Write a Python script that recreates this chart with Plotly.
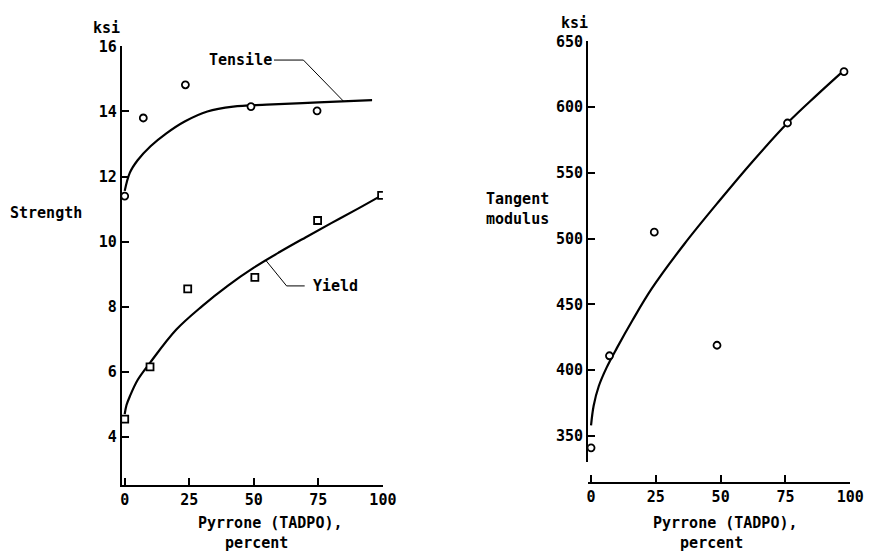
import plotly.graph_objects as go

# ---- data ----
tensile_x = [0, 7.2, 23.5, 48.9, 74.5]
tensile_y = [11.4, 13.8, 14.82, 14.15, 14.02]
yield_x = [0, 9.8, 24.4, 50.4, 74.7, 99.5]
yield_y = [4.55, 6.15, 8.55, 8.9, 10.65, 11.42]
tensile_fit_x = [0, 2, 5, 10, 16, 23.4, 32, 42, 55, 75, 95.8]
tensile_fit_y = [11.56, 12.12, 12.5, 12.93, 13.32, 13.7, 14.0, 14.15, 14.21, 14.28, 14.35]
yield_fit_x = [0, 0.7, 2, 5, 10, 20, 30, 40, 50, 60, 70, 80, 90, 99]
yield_fit_y = [4.7, 4.98, 5.25, 5.75, 6.3, 7.3, 8.02, 8.65, 9.2, 9.68, 10.13, 10.57, 11.0, 11.4]

modulus_x = [0, 7.1, 24.4, 48.6, 75.8, 97.6]
modulus_y = [341, 411, 505, 419, 588, 627]
modulus_fit_x = [0, 1, 3, 6, 10, 16, 23.4, 36, 50, 62, 75.8, 87, 97.6]
modulus_fit_y = [358, 373, 388, 402, 417, 438, 462, 496, 530, 558, 588, 609, 628]

x_ticks = [0, 25, 50, 75, 100]
strength_ticks = [4, 6, 8, 10, 12, 14, 16]
modulus_ticks = [350, 400, 450, 500, 550, 600, 650]

FONT = "DejaVu Sans Mono"
W, H = 876, 552


def px(X):
    return X / W


def py(Y):
    return 1 - Y / H


fig = go.Figure()
curve = dict(color="black", width=2.2, shape="spline", smoothing=1.0)
mk = lambda sym: dict(symbol=sym, size=7, color="white", line=dict(color="black", width=1.8))

fig.add_trace(go.Scatter(x=tensile_fit_x, y=tensile_fit_y, mode="lines", line=curve,
                         xaxis="x", yaxis="y"))
fig.add_trace(go.Scatter(x=yield_fit_x, y=yield_fit_y, mode="lines", line=curve,
                         xaxis="x", yaxis="y"))
fig.add_trace(go.Scatter(x=tensile_x, y=tensile_y, mode="markers", marker=mk("circle"),
                         xaxis="x", yaxis="y"))
fig.add_trace(go.Scatter(x=yield_x, y=yield_y, mode="markers", marker=mk("square"),
                         xaxis="x", yaxis="y"))
fig.add_trace(go.Scatter(x=modulus_fit_x, y=modulus_fit_y, mode="lines", line=curve,
                         xaxis="x2", yaxis="y2"))
fig.add_trace(go.Scatter(x=modulus_x, y=modulus_y, mode="markers", marker=mk("circle"),
                         xaxis="x2", yaxis="y2"))

tickfont = dict(family=FONT, size=15, color="black", weight="bold")
ax_common = dict(showgrid=False, zeroline=False, showline=True, linecolor="black",
                 linewidth=2, ticks="inside", ticklen=7, tickwidth=2, tickcolor="black",
                 tickfont=tickfont)

fig.update_layout(
    width=W, height=H, margin=dict(l=0, r=0, t=0, b=0),
    paper_bgcolor="white", plot_bgcolor="white", showlegend=False,
    font=dict(family=FONT, size=15, color="black"),
    xaxis=dict(domain=[px(122), px(388)], range=[-1.14, 100], tickvals=x_ticks,
               anchor="y", **ax_common),
    yaxis=dict(domain=[py(484), py(38)], range=[2.52, 16], tickvals=strength_ticks,
               anchor="x", **ax_common),
    xaxis2=dict(domain=[px(597), px(864)], range=[-1.14, 100], tickvals=x_ticks,
                anchor="free", position=py(482), **ax_common),
    yaxis2=dict(domain=[py(460), py(33)], range=[330.6, 650], tickvals=modulus_ticks,
                anchor="x2", **ax_common),
)


def txt(X, Y, s, yanchor="middle"):
    fig.add_annotation(x=px(X), y=py(Y), xref="paper", yref="paper", text=s,
                       showarrow=False, xanchor="center", yanchor=yanchor,
                       font=dict(family=FONT, size=15, color="black", weight="bold"))


txt(106, 19, "ksi")
txt(45, 207, "Strength")
txt(273, 533, "Pyrrone (TADPO),<br>percent&nbsp;&nbsp;&nbsp;")
txt(583, 14, "ksi")
txt(525, 203, "Tangent<br>modulus")
txt(737, 533, "Pyrrone (TADPO),<br>percent&nbsp;&nbsp;&nbsp;")

# labels with leader lines (data coords of left panel)
fig.add_annotation(x=45, y=15.58, xref="x", yref="y", text="Tensile", showarrow=False,
                   font=dict(family=FONT, size=15, color="black", weight="bold"))
fig.add_shape(type="path", xref="x", yref="y", path="M 57.8 15.58 L 69.2 15.58 L 84.8 14.31",
              line=dict(color="black", width=1))
fig.add_annotation(x=81.7, y=8.64, xref="x", yref="y", text="Yield", showarrow=False,
                   font=dict(family=FONT, size=15, color="black", weight="bold"))
fig.add_shape(type="path", xref="x", yref="y", path="M 54.5 9.44 L 62.7 8.64 L 69.7 8.64",
              line=dict(color="black", width=1))

fig.write_html("out.html", config={"displayModeBar": False},
               post_script="document.body.style.margin='0';document.body.style.overflow='hidden';")
